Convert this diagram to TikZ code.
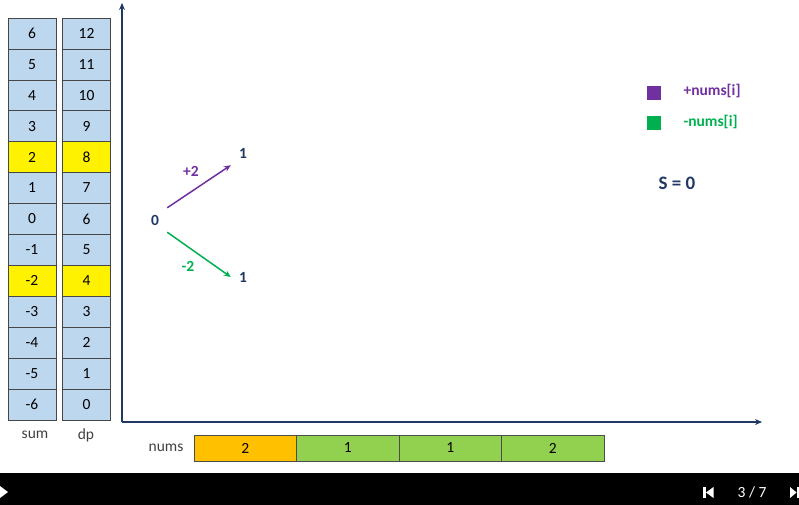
\documentclass[tikz,border=0pt]{standalone}
\usepackage{fontspec}
\setmainfont{Carlito}
\usetikzlibrary{positioning, arrows.meta}

\definecolor{cellblue}{HTML}{BDD7EE}
\definecolor{navy}{HTML}{203864}
\definecolor{plum}{HTML}{7030A0}
\definecolor{leaf}{HTML}{00B050}
\definecolor{amber}{HTML}{FFC000}
\definecolor{lime}{HTML}{92D050}

\begin{document}
\begin{tikzpicture}[>={Stealth[length=7pt, width=6pt]}, x=1pt, y=-1pt,
    cell/.style={draw=gray!55!black, fill=cellblue, minimum width=48pt,
      minimum height=30.9pt, inner sep=0pt, outer sep=0pt,
      font=\fontsize{15.5}{15.5}\selectfont},
    numcell/.style={draw=black!70, minimum width=102.5pt, minimum height=26pt,
      inner sep=0pt, outer sep=0pt, font=\fontsize{15.5}{15.5}\selectfont},
    tag/.style={text=black!75, font=\fontsize{15.5}{15.5}\selectfont},
    dot/.style={text=navy, font=\bfseries\fontsize{15.5}{15.5}\selectfont,
      minimum size=24pt, inner sep=0pt},
    axis/.style={navy, line width=2pt, ->}]
  \useasboundingbox (0,0) rectangle (799,505);
  % sum / dp table, rows for sum = 2 and sum = -2 are highlighted
  \foreach \i in {0,...,12} {
    \pgfmathtruncatemacro{\s}{6-\i}
    \pgfmathtruncatemacro{\d}{12-\i}
    \edef\shade{cellblue}
    \ifnum\i=4 \edef\shade{yellow}\fi
    \ifnum\i=8 \edef\shade{yellow}\fi
    \node[cell, fill=\shade] (sum\i) at (32, 33.45+30.9*\i) {\s};
    \node[cell, fill=\shade] (dp\i) at (86.5, 33.45+30.9*\i) {\d};
  }
  \node[tag] (sumlabel) at (35,435) {sum};
  \node[tag] (dplabel) at (86,435) {dp};
  % Axes
  \coordinate (origin) at (122,422);
  \coordinate (ytop) at (122,3);
  \coordinate (xend) at (762,422);
  \draw[axis] (origin) -- (ytop);
  \draw[axis] (origin) -- (xend);
  % First step of the tree: 0 goes to +2 and -2
  \node[dot] (root) at (155,220) {0};
  \node[dot] (up) at (243,153) {1};
  \node[dot] (down) at (243,277) {1};
  \draw[->, plum, line width=1.5pt] (root.north east) -- (up.south west);
  \draw[->, leaf, line width=1.5pt] (root.south east) -- (down.west);
  \node[text=plum, font=\bfseries\fontsize{15.5}{15.5}\selectfont] (plus) at (191,171) {+2};
  \node[text=leaf, font=\bfseries\fontsize{15.5}{15.5}\selectfont] (minus) at (188,266) {-2};
  % Legend
  \node[fill=plum, minimum size=14pt, inner sep=0pt] (keyplus) at (654,93) {};
  \node[fill=leaf, minimum size=14pt, inner sep=0pt] (keyminus) at (654,123) {};
  \node[anchor=west, text=plum, font=\bfseries\fontsize{15.5}{15.5}\selectfont]
    (txtplus) at (680,91) {+nums[i]};
  \node[anchor=west, text=leaf, font=\bfseries\fontsize{15.5}{15.5}\selectfont]
    (txtminus) at (680,122) {-nums[i]};
  \node[text=navy, font=\bfseries\fontsize{19}{19}\selectfont] (total) at (677,183) {S = 0};
  % nums row
  \node[tag] (numslabel) at (166,448) {nums};
  \node[numcell, fill=amber] (n1) at (245.3,448) {2};
  \node[numcell, fill=lime, right=0pt of n1] (n2) {1};
  \node[numcell, fill=lime, right=0pt of n2] (n3) {1};
  \node[numcell, fill=lime, right=0pt of n3] (n4) {2};
  % Player bar
  \fill[black] (0,473) rectangle (799,505);
  \fill[white] (0,486) -- (8,492) -- (0,498) -- cycle;
  \fill[white] (703,487) rectangle (705.5,498);
  \fill[white] (713.5,487) -- (706,492.5) -- (713.5,498) -- cycle;
  \node[text=white, font=\fontsize{15.5}{15.5}\selectfont] (page) at (752,492) {3 / 7};
  \fill[white] (790,487) -- (796.5,492.5) -- (790,498) -- cycle;
  \fill[white] (796.5,487) rectangle (799,498);
\end{tikzpicture}
\end{document}
